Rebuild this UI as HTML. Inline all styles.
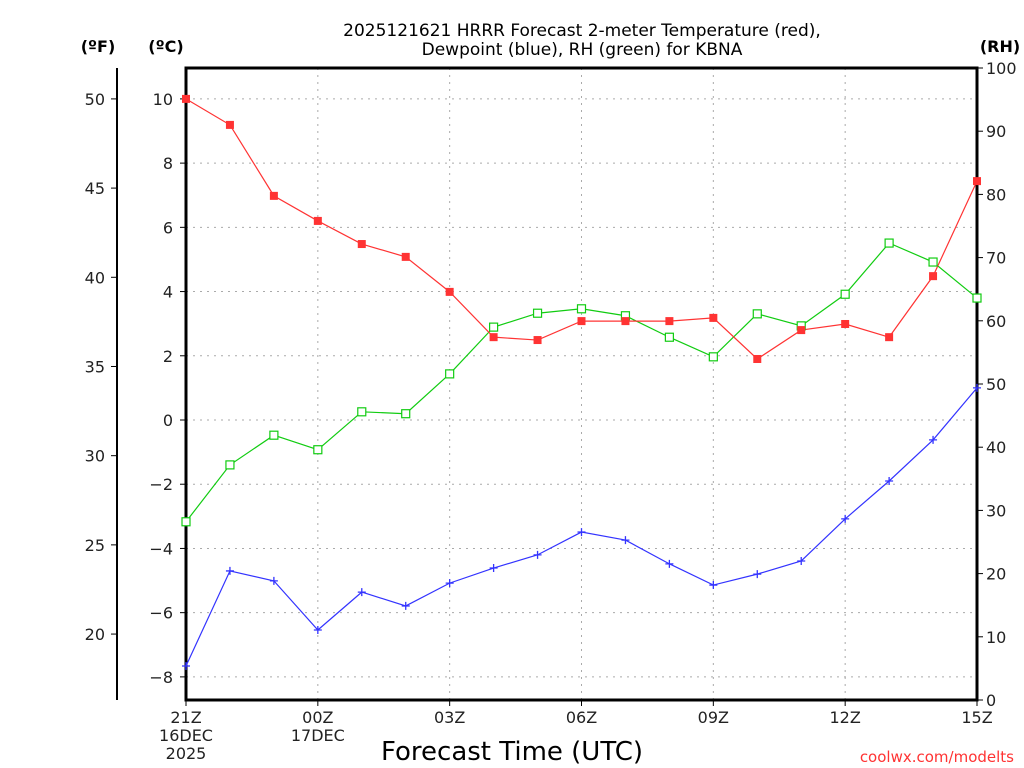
<!DOCTYPE html>
<html><head><meta charset="utf-8"><style>
html,body{margin:0;padding:0;background:#fff;}
svg{display:block;font-family:"DejaVu Sans","Liberation Sans",sans-serif;}
</style></head><body>
<svg id="chart" width="1024" height="768" viewBox="0 0 1024 768" xmlns="http://www.w3.org/2000/svg">
<rect width="1024" height="768" fill="#fff"/>
<text x="582" y="36" font-size="17" text-anchor="middle" fill="#000">2025121621 HRRR Forecast 2-meter Temperature (red),</text>
<text x="582" y="55" font-size="17" text-anchor="middle" fill="#000">Dewpoint (blue), RH (green) for KBNA</text>
<text x="98" y="52" font-size="16" font-weight="bold" text-anchor="middle">(ºF)</text>
<text x="166" y="52" font-size="16" font-weight="bold" text-anchor="middle">(ºC)</text>
<text x="1000" y="52" font-size="16" font-weight="bold" text-anchor="middle">(RH)</text>
<text x="512" y="760" font-size="26" text-anchor="middle">Forecast Time (UTC)</text>
<text x="1014" y="762" font-size="15" text-anchor="end" fill="#f33">coolwx.com/modelts</text>
<g id="grid"></g><g id="axes"></g><g id="series"></g>
</svg>
<script>
const hours = [0,1,2,3,4,5,6,7,8,9,10,11,12,13,14,15,16,17,18];
const xTickHours = [0,3,6,9,12,15,18];
const xTickLabels = ["21Z","00Z","03Z","06Z","09Z","12Z","15Z"];
const tempC = [10.0,9.19,6.98,6.2,5.48,5.08,3.99,2.58,2.49,3.08,3.08,3.08,3.18,1.9,2.8,2.99,2.58,4.48,7.44];
const dewC = [-7.66,-4.70,-5.01,-6.54,-5.36,-5.79,-5.08,-4.61,-4.20,-3.49,-3.74,-4.48,-5.14,-4.80,-4.39,-3.08,-1.90,-0.62,1.0];
const rh = [28.2,37.2,41.9,39.6,45.6,45.3,51.6,59.0,61.2,61.9,60.8,57.4,54.3,61.1,59.2,64.2,72.3,69.3,63.6];
const cTicks = [-8,-6,-4,-2,0,2,4,6,8,10];
const fTicks = [20,25,30,35,40,45,50];
const rhTicks = [0,10,20,30,40,50,60,70,80,90,100];

const L=186,R=977,T=68,B=700;
const xs=h=>L+(R-L)*h/18;
const yc=c=>420-c*32.11;
const yf=f=>yc((f-32)*5/9);
const yr=v=>B-(B-T)*v/100;
const NS="http://www.w3.org/2000/svg";
function mk(tag,attrs,parent,text){const e=document.createElementNS(NS,tag);for(const k in attrs)e.setAttribute(k,attrs[k]);if(text!==undefined)e.textContent=text;parent.appendChild(e);return e;}
const grid=document.getElementById('grid'),axes=document.getElementById('axes'),series=document.getElementById('series');
cTicks.forEach(c=>{
 const g=mk('line',{x1:L,x2:R,y1:yc(c),y2:yc(c),stroke:'#aaa','stroke-dasharray':'2,5'},grid);
 
 
 const t=mk('line',{x1:L-6,x2:L,y1:yc(c),y2:yc(c),stroke:'#000'},axes);
 
 
 const l=mk('text',{x:173,y:yc(c)+6,'font-size':16,'text-anchor':'end',fill:'#222'},axes,c<0?'\u2212'+(-c):String(c));
 
 
});
xTickHours.forEach((h,i)=>{
 if(h>0&&h<18){const g=mk('line',{x1:xs(h),x2:xs(h),y1:T,y2:B,stroke:'#aaa','stroke-dasharray':'2,5'},grid);
 
 }
 const t=mk('line',{x1:xs(h),x2:xs(h),y1:B,y2:B+6,stroke:'#000'},axes);
 
 
 const l=mk('text',{x:xs(h),y:723,'font-size':16,'text-anchor':'middle',fill:'#222'},axes,xTickLabels[i]);
 
 
});
[["16DEC",0,741],["2025",0,759],["17DEC",3,741]].forEach(d=>{
 const l=mk('text',{x:xs(d[1]),y:d[2],'font-size':16,'text-anchor':'middle',fill:'#222'},axes,d[0]);
 
 
});
fTicks.forEach(f=>{
 const t=mk('line',{x1:111,x2:117,y1:yf(f),y2:yf(f),stroke:'#000'},axes);
 
 
 const l=mk('text',{x:105,y:yf(f)+6,'font-size':16,'text-anchor':'end',fill:'#222'},axes,String(f));
 
 
});
rhTicks.forEach(v=>{
 const t=mk('line',{x1:R,x2:R+6,y1:yr(v),y2:yr(v),stroke:'#000'},axes);
 
 
 const l=mk('text',{x:986,y:yr(v)+6,'font-size':16,'text-anchor':'start',fill:'#222'},axes,String(v));
 
 
});
const fa=mk('line',{x1:117,x2:117,y1:T,y2:B,stroke:'#000','stroke-width':2},axes);


const fr=mk('rect',{x:L,y:T,width:R-L,height:B-T,fill:'none',stroke:'#000','stroke-width':3},axes);



function line(vals,yfn,color,name){
 const p=mk('polyline',{points:vals.map((v,i)=>xs(hours[i])+','+yfn(v)).join(' '),fill:'none',stroke:color,'stroke-width':1.2},series);
 
 
}
line(rh,yr,'#1c1','rh');
line(tempC,yc,'#f33','temperature');
line(dewC,yc,'#33f','dewpoint');
rh.forEach((v,i)=>{const m=mk('rect',{x:xs(hours[i])-4,y:yr(v)-4,width:8,height:8,fill:'#fff',stroke:'#1c1','stroke-width':1.2},series);
 
 });
tempC.forEach((v,i)=>{const m=mk('rect',{x:xs(hours[i])-4,y:yc(v)-4,width:8,height:8,fill:'#f33'},series);
 
 });
dewC.forEach((v,i)=>{const x=xs(hours[i]),y=yc(v);
 const m=mk('path',{d:`M${x-4},${y}H${x+4}M${x},${y-4}V${y+4}`,stroke:'#33f','stroke-width':1.3},series);
 
 });
</script>
</body></html>
